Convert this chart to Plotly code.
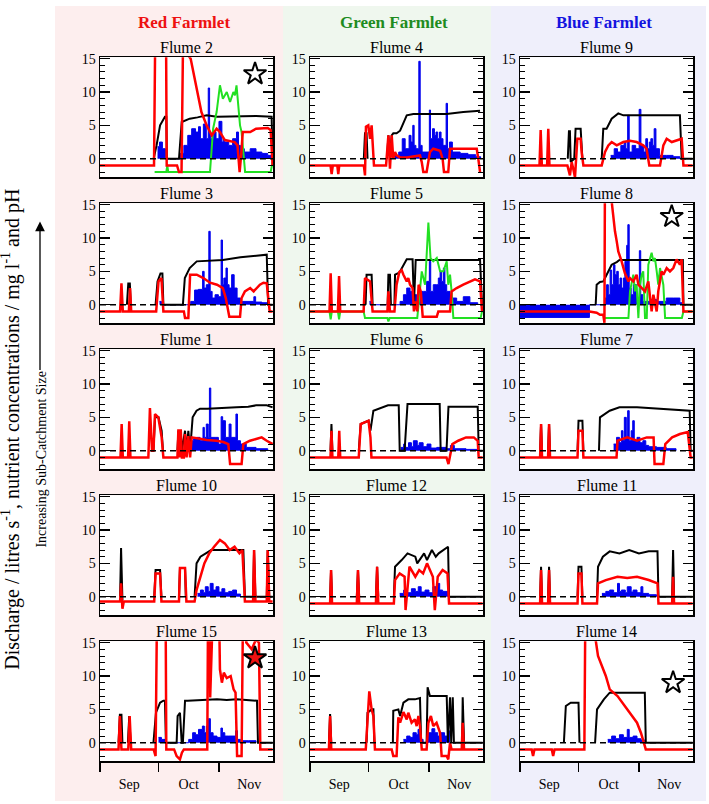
import datetime as dt
import plotly.graph_objects as go

BASE = dt.datetime(2012, 9, 1)
X_RANGE = ["2012-09-01", "2012-11-28 17:00:00"]
Y_RANGE = [-2.8, 15.2]

FARMLETS = ["Red Farmlet", "Green Farmlet", "Blue Farmlet"]
FARMLET_COLORS = ["#ee1111", "#1e8c1e", "#1414e0"]
FLUMES = [["Flume 2", "Flume 4", "Flume 9"],
          ["Flume 3", "Flume 5", "Flume 8"],
          ["Flume 1", "Flume 6", "Flume 7"],
          ["Flume 10", "Flume 12", "Flume 11"],
          ["Flume 15", "Flume 13", "Flume 14"]]
MONTH_LABELS = ["Sep", "Oct", "Nov"]
Y_TICKS = [0, 5, 10, 15]

# ---------------- data (day index from 1 Sep, value) ----------------
# Flume 2
F2_BLACK_D = [27.5, 29, 30.8, 33.3, 34, 34.3, 39.5, 40.5, 41.9, 46, 50, 54.7, 60, 70, 80, 88, 88.5]
F2_BLACK_V = [0, 2, 5, 6.3, 6.3, 0, 0, 0, 5.5, 6, 6.2, 6.5, 6.3, 6.4, 6.4, 6.3, 0]
F2_RED_D = [0, 27.7, 29, 33.5, 34.2, 39.5, 40.5, 41.8, 42.5, 44, 46.5, 48.5, 50.5, 52, 54.7, 57.3, 59.8, 61.5, 64, 69, 70.5, 71.6, 72.5, 73.2, 77, 80, 86, 87.5, 88.5]
F2_RED_V = [-1, -1, 40, 40, -1, -1, -2, -2, 15.5, 16, 15, 12, 9, 7, 5, 3.5, 4.5, 4, 2.8, 2.5, 2, -2, 1, 4, 4, 4.5, 4.6, 4.3, -1]
F2_GREEN_D = [28, 34, 34.5, 35, 56.4, 58, 59.8, 61.5, 63, 65, 66.7, 68.4, 69.2, 70, 71.8, 72.6, 74.4, 87.5, 88.5]
F2_GREEN_V = [-2, -2, -1, -2, -2, 4.5, 7, 11, 9, 10, 8.5, 10, 9.5, 11, 5, 4, -2, -2, -0.5]
F2_BLUE_D = [29.5, 30.5, 32, 33.5, 41, 43, 45, 47, 49, 50.5, 51.5, 53, 54.5, 55.5, 56.2, 56.8, 58, 59.5, 61, 62.5, 63.2, 64, 66, 68, 70, 71, 72, 74, 77, 80, 83, 86, 88.5]
F2_BLUE_V = [1.8, 2.5, 1.5, 0, 0.8, 2, 3.5, 4.5, 4, 4.8, 3, 5.2, 3, 10.6, 4, 3, 4, 3, 5.6, 2.5, 3, 2.5, 2, 3, 4, 2, 1.5, 1, 1.5, 1, 0.8, 0.5, 0]

# Flume 4
F4_BLACK_D = [27.6, 28.2, 29, 29.5, None, 39.5, 40.2, 41, 41.9, 42.7, 44.4, 46.2, 47.9, 49.6, 53, 61.5, 70, 78.6, 87.2]
F4_BLACK_V = [0, 3.8, 3.8, 0, None, 0, 3.5, 0.5, 3.5, 3.8, 3.8, 4.2, 5.5, 6.5, 6.7, 6.7, 6.7, 7, 7.2]
F4_RED_D = [0, 10.5, 11.1, 11.7, 14, 14.5, 15, 27.6, 28.2, 28.7, 29.9, 30.8, 31.6, 32.1, 32.8, 39, 40.2, 41, 41.9, 42.7, 43.6, 44.4, 46.2, 49.6, 56.4, 57.3, 58.1, 59.8, 61.5, 63.2, 66.7, 68, 68.7, 70.9, 71.8, 78.6, 85.5, 86.3, 87.2]
F4_RED_V = [-1, -1, -2.3, -1, -1, -2.3, -1, -1, -2.5, 4.8, 5, 3, 5, 1.5, -1, -1, 3.5, -1.5, 3.5, 0, 1, 0.5, 0.2, 0.2, 0.5, -0.5, -2, -2, 1, 1.5, 1.2, 0, -2, -2, 1.5, 1.5, 1.5, 0, -2]
F4_BLUE_D = [43.3, 45.5, 47.3, 48.8, 50.8, 51.8, 52.7, 53.4, 54.3, 55.8, 56.5, 57.5, 61.2, 61.8, 62.8, 63.8, 64.6, 65.5, 66.4, 67.2, 68.2, 69.8, 70.5, 71.5, 73, 77, 81, 85, 87.5]
F4_BLUE_V = [0.5, 1, 3, 1.5, 3.5, 2.5, 5, 2, 1.5, 14.6, 2, 1, 7.3, 3, 4.5, 3.5, 4, 3, 4, 3, 2, 8.3, 1.5, 2.5, 1, 0.8, 0.6, 0.3, 0]

# Flume 9
F9_BLACK_D = [24.5, 25.1, 25.6, 26, 27.8, 28.5, 31.1, 32, None, 41.9, 42.7, 44.4, 47, 50.4, 53, 60, 70, 82, 82.9, 88.5]
F9_BLACK_V = [0, 4.1, 4.1, -0.5, 0, 4.5, 4.5, 0, None, 0, 4.5, 4.5, 6, 6.8, 6.5, 6.5, 6.5, 6.5, 0, 0]
F9_RED_D = [0, 10, 10.6, 11.2, 13.9, 14.5, 15.1, 24.3, 25.6, 26.5, 27.3, 28.2, 29.4, 31.1, 31.6, 32.5, 41.9, 42.7, 43.6, 45.3, 47, 49.6, 53, 56.4, 59.8, 63.2, 64.9, 66.3, 71.8, 73.5, 75.2, 77.8, 80.3, 82.9, 83.8, 88.5]
F9_RED_V = [-1, -1, 4.3, -1, -1, 4.5, -1, -1, -2.5, -0.5, -1.5, -2.8, 3, 3, 1, -1, -1, 0, 1, 2, 2.5, 2, 2.5, 2.7, 2.5, 2, 1.5, -1, -1, 2, 3, 2.5, 2.8, 3, -1, -1]
F9_BLUE_D = [46.5, 48.3, 50, 51.7, 53.4, 54.3, 55.2, 56, 57.5, 59.3, 61.1, 62, 63.5, 64.5, 65.4, 66.3, 67.1, 68, 68.8, 69.7, 71.5, 75, 78.5, 82]
F9_BLUE_V = [0.5, 1.5, 1, 2, 2.5, 1.5, 6.5, 1, 2, 1.5, 7.4, 2, 1, 3, 1.5, 2.5, 3, 2, 4.5, 1.5, 0.5, 0.5, 0.3, 0]

# Flume 3
F3_BLACK_D = [13.8, 14.5, 15.3, 15.8, None, 28.5, 29.5, 31, 32, 32.5, 42.5, 43.5, 46, 49.6, 54.7, 63, 72, 80, 85.5, 86.2, 88.5]
F3_BLACK_V = [0, 3.2, 3.2, 0, None, 0, 3.5, 4.7, 4.7, 0, 0, 4, 5.5, 6.5, 6.6, 6.7, 7.1, 7.3, 7.5, 0, 0]
F3_RED_D = [0, 10.3, 11, 11.7, 14.8, 15.4, 16, 28.8, 30, 31.5, 32.5, 43, 43.6, 45.3, 46.2, 49.6, 53, 56.4, 60, 63, 64.5, 66.3, 71.8, 72.6, 74.3, 77, 78.8, 80.3, 82, 83.8, 85.5, 87, 88.5]
F3_RED_V = [-1, -1, 3.2, -1, -1, 2.5, -1, -1, 3.5, 4, -1, -1, -2, -2, 4.5, 4.5, 4, 3.3, 3, 2.5, 1, -1.8, -1.8, 1, 2, 2.5, 2, 2.5, 3, 3.3, 3.2, -1, -1]
F3_BLUE_D = [30.5, 31.5, 46.5, 48.5, 50.4, 52.6, 53.4, 54.5, 55.8, 56.5, 57.5, 59, 60.7, 62.1, 62.8, 63.5, 64.6, 65.3, 66.2, 67.5, 68.8, 70.3, 72, 78.9, 79.8, 83, 86]
F3_BLUE_V = [0.5, 0, 0.5, 2.2, 2.3, 5, 2.5, 3, 11, 2, 1, 1.5, 1.2, 9.7, 3, 4, 5.5, 3, 2.5, 4.5, 2.5, 1, 0.5, 1.2, 0.4, 0.3, 0]

# Flume 5
F5_BLACK_D = [28.5, 29, 31.6, 32.1, None, 39.8, 40.2, 41, 41.5, None, 43.3, 43.6, 45.8, 47.9, 49.6, 52.6, 53.3, 54.2, 60, 70, 80, 87.2, 88.2]
F5_BLACK_V = [0, 4.5, 4.5, 0, None, 0, 4.5, 4.5, 0, None, 0, 4.5, 4.8, 6, 6.8, 6.8, 0, 6.7, 6.7, 6.8, 6.8, 6.7, 0]
F5_RED_D = [0, 10, 10.6, 11.2, 14.3, 14.9, 15.5, 27.5, 28.2, 30.8, 32.1, 39.7, 40.2, 41, 43.3, 44.4, 45.8, 47, 47.9, 49.6, 50.4, 51.3, 52.6, 53.3, 54.2, 55, 55.7, 56.8, 57.8, 65, 65.8, 71.8, 72.6, 75.2, 78.6, 82, 84.6, 87.2, 88.2]
F5_RED_V = [-1, -1, 4.7, -1, -1, 4.3, -1, -1, 4, 3.5, -1, -1, 2, -1, -1, 3, 4.9, 5.2, 4.5, 3.5, 4, 3, 2.5, -1, 0.5, -1, 3, 2, -1.8, -1.8, -1, -1, 2, 2.5, 3, 3.5, 3.8, 3.5, -1]
F5_GREEN_D = [0, 10, 10.6, 11.2, 14.3, 14.9, 15.5, 27.5, 28.2, 39.7, 40.2, 40.8, 55, 57.3, 59, 60.7, 61.8, 63.2, 65, 66.7, 68.4, 70.1, 70.9, 71.8, 72.6, 73.5, 87.5, 88.2]
F5_GREEN_V = [-1, -1, -2.2, -1, -1, -2.2, -1, -1, -2, -2, -2.5, -2, -2, 5, 3, 12.3, 7, 6.5, 7, 5, 5, 6.5, 3, 4.5, 2, -2, -2, -1]
F5_BLUE_D = [30.5, 31.5, 46.2, 47.9, 49.6, 51.3, 53, 54.7, 56.4, 58.1, 59.8, 61.2, 61.9, 63.2, 65, 65.8, 66.7, 67.5, 68.4, 69.2, 70.1, 71.8, 75.2, 78.6, 82, 86]
F5_BLUE_V = [0.5, 0, 0.5, 1.5, 2.5, 2, 1.5, 1.5, 2, 2, 3.5, 6.5, 2, 3, 3, 4, 5, 3.5, 5.5, 3, 2, 1, 0.5, 1.2, 0.3, 0]

# Flume 8
F8_BLACK_D = [38.8, 39.3, 41, 42.7, 43.6, 45.3, 47, 49.6, 51, 60, 70, 80, 83.5, 83.8, 88.5]
F8_BLACK_V = [0, 3, 3.4, 3.5, 4, 5, 6, 6.4, 6.7, 6.7, 6.7, 6.7, 6.7, 0, 0]
F8_RED_D = [0, 35.6, 39.3, 41, 42.7, 43.3, 43.8, 46, 47, 47.9, 48.7, 49.6, 50.4, 52.1, 53.8, 55.6, 56.4, 58.1, 59.8, 60.7, 62.4, 64.1, 65.8, 66.6, 67.5, 68.4, 70.1, 70.9, 71.8, 72.6, 73.5, 75.2, 76.9, 78.6, 80.3, 82, 82.9, 83.8, 88.5]
F8_RED_V = [-1, -1, -1.2, -1.5, -1.5, -2.7, 40, 40, 15.5, 13, 11, 9.5, 8, 6.5, 4.7, 3.5, 4, 3.5, 4.5, 3, 2.5, 2, 3.5, 1.5, -1, 1.5, -1, 2, 3.5, 5, 4.5, 5.5, 5, 5.5, 6.8, 6, 6.8, -1, -1]
F8_GREEN_D = [43.6, 55.6, 56.4, 58.1, 59, 59.8, 60.7, 61.5, 62.4, 63.2, 64.1, 65, 65.8, 67.5, 68.4, 69.2, 70.1, 70.9, 71.8, 72.6, 73.5, 74.4, 83, 83.8, 88.5]
F8_GREEN_V = [-2, -2, 2, 4.5, 2, 3, -2, 3, 4.5, 5, -2, -2, 6, 7.8, 6.5, 7, 5, 3, 5.5, 4, 3, -2, -2, -1, -1]
F8_BLUE_D = [0, 35.6, 43.6, 44.4, 45.3, 46.2, 47, 47.9, 48.7, 49.6, 50.4, 51.3, 52.1, 53, 53.8, 54.7, 55.3, 56, 57, 58.1, 59.8, 61.2, 61.9, 63, 66.7, 70, 75, 78.6, 82, 83.8]
F8_BLUE_V = [-1.9, 0, 1, 3, 1.5, 5.2, 3, 6, 4.5, 5, 3, 4, 2.5, 4, 6.5, 8.9, 12, 2.5, 1.5, 3, 1, 8.1, 1.5, 0.5, 0.8, 0.5, 1, 1, 0.3, 0]

# Flume 1
F1_BLACK_D = [27.4, 28.2, 30, 31.6, 32.3, None, 39.7, 40.2, 40.7, 41.4, 42, 43.6, 44.4, 45.3, 46.2, 47.5, 49.5, 51.3, 55, 60, 65, 70, 76, 80, 85.5, 88.5]
F1_BLACK_V = [0, 5, 5, 3, 0, None, 0, 3, 0, 3, 0, 3, 0, 3, 0, 5, 6, 6.3, 6.3, 6.4, 6.4, 6.5, 6.6, 6.8, 6.8, 6.5]
F1_RED_D = [0, 10.5, 11.1, 11.7, 14.4, 15, 15.6, 24.8, 25.6, 26.7, 27.4, 28.2, 29.9, 31.6, 32.5, 39.7, 40.2, 40.7, 41.4, 42, 43, 43.6, 44.4, 45.3, 46.2, 47, 51.3, 54.7, 59.8, 63.2, 65.8, 66.7, 72.6, 73.5, 76.9, 80.3, 82.9, 85.5, 88.5]
F1_RED_V = [-1, -1, 4, -1, -1, 4.4, -1, -1, 6.4, 0, 0, 5.5, 5, 2, -1, -1, 3.2, -1, 3.2, -1, -1, 2.5, -1, 2.2, -1, 2, 1.8, 1.6, 1.5, 1.3, 1, -2, -2, 1, 1.5, 1.8, 2, 1.5, 1]
F1_BLUE_D = [46.8, 47.9, 49.6, 51.3, 52.8, 53.5, 54.5, 55.5, 56.1, 56.8, 59, 60.7, 62.1, 62.9, 64.3, 66.2, 67.2, 69.7, 70.5, 72, 75, 80, 86]
F1_BLUE_V = [1.5, 1.8, 2, 1.5, 3.5, 2, 4, 2, 9.4, 2, 2, 1, 5.1, 4.5, 2, 4, 2, 5.5, 1.5, 1, 0.5, 0.3, 0]

# Flume 6
F6_BLACK_D = [10.5, 11, 11.5, None, 25, 26, 30, 31, 32.5, 35, 40, 45.5, 46, 48.5, 50, 55, 60, 66.5, 67, 70, 71, 75, 80, 86, 86.5, 88.5]
F6_BLACK_V = [0, 4, 0, None, 0, 4, 4.5, 3, 6, 6.3, 6.8, 6.8, 0, 0, 7, 7, 7, 7, 0, 0, 6.6, 6.6, 6.6, 6.6, 0, 0]
F6_RED_D = [0, 10.5, 11, 11.5, 14.5, 15, 15.5, 25, 26, 30, 31, 31.5, 70, 71, 73, 76, 80, 84, 86, 86.5, 88.5]
F6_RED_V = [-1, -1, 3, -1, -1, 3, -1, -1, 4, 4.5, 2, -1, -1, -2, 1, 1.5, 2, 2, 1.5, -1, -1]
F6_BLUE_D = [46.5, 48, 49, 50.5, 52, 53, 55, 56, 58, 60, 62, 65, 70, 72, 74, 80, 86]
F6_BLUE_V = [0.5, 1, 0.5, 1.2, 0.6, 1.5, 0.8, 1.2, 0.6, 1, 0.4, 0.5, 0.3, 0.8, 0.3, 0.2, 0]

# Flume 7
F7_BLACK_D = [10.3, 10.8, 11.3, None, 14.4, 14.9, 15.4, None, 29.5, 30, 32, 32.5, None, 40.5, 41, 46, 51, 60, 70, 80, 87, 87.5, 88.5]
F7_BLACK_V = [0, 4, 0, None, 0, 4, 0, None, 0, 4.5, 4.5, 0, None, 0, 5, 6, 6.5, 6.5, 6.3, 6.2, 6, 0, 0]
F7_RED_D = [0, 10.3, 10.8, 11.3, 14.4, 14.9, 15.4, 29.5, 30, 32, 32.5, 49.5, 50, 55, 60, 65, 68.5, 69, 73.5, 74.5, 78, 82, 86, 87.5, 88.5]
F7_RED_V = [-1, -1, 4, -1, -1, 4, -1, -1, 3, 3, -1, -1, 1.5, 2, 1.5, 2, 2, -2, -2, 1, 2, 2.5, 2.8, -1, -1]
F7_BLUE_D = [48, 49.5, 51, 52, 52.8, 53.5, 54.5, 55.2, 56, 57, 57.8, 58.6, 60, 61.5, 63, 64.5, 66, 70, 75, 80]
F7_BLUE_V = [1, 2, 1.2, 3, 1.5, 5, 2, 6, 1.5, 3, 4.5, 1.5, 2, 1.2, 1.5, 0.8, 0.6, 0.5, 0.3, 0]

# Flume 10
F10_BLACK_D = [10.3, 10.8, 11.5, None, 27.8, 28.5, 30.8, 31.5, None, 40.5, 41, 43.6, 44, None, 48.5, 49.5, 51.5, 54, 57, 60, 65, 70, 73.5, 74.3, 78.5, 79, 79.7, 85.5, 86, 86.8, 88.5]
F10_BLACK_V = [0, 7.3, -0.5, None, 0, 4, 4, 0, None, 0, 4.3, 4.3, 0, None, 0, 5, 6, 6.5, 7, 7, 7, 7, 7, 0, 0, 7, 0, 0, 7, 0, 0]
F10_RED_D = [0, 10.3, 10.8, 11.5, 12.2, 27.8, 28.5, 30.8, 31.5, 40.5, 41, 43.6, 44.3, 48.5, 49.5, 51.5, 53.5, 56, 58.5, 61.5, 64, 66.5, 69, 71.5, 73, 74.3, 78.5, 79, 79.7, 85.5, 86, 86.8, 88.5]
F10_RED_V = [-0.7, -0.7, 2, -1.8, -0.7, -0.7, 3.5, 3.5, -0.7, -0.7, 4.3, 4.3, -0.7, -0.7, 1, 3, 5, 6.5, 7.5, 8.5, 8, 7, 7.5, 6.5, 7, -0.7, -0.7, 7, -0.7, -0.7, 7, -0.7, -0.7]
F10_BLUE_D = [50, 51.5, 53, 54, 55.5, 56.5, 58, 59.5, 61, 62.5, 64, 66, 68, 70, 72]
F10_BLUE_V = [0.5, 1, 0.6, 1.5, 0.8, 2, 1, 1.5, 0.7, 1.2, 0.6, 0.8, 1, 0.4, 0]

# Flume 12
F12_BLACK_D = [10.3, 10.8, 11.3, None, 24, 24.6, 25.2, None, 33.8, 34.4, 35, None, 43, 43.6, 47, 50, 54, 55, 58.5, 60, 62.5, 64.5, 66, 70.8, 71.3, 88.5]
F12_BLACK_V = [0, 4, 0, None, 0, 4, 0, None, 0, 4.5, 0, None, 0, 4.5, 5.5, 6.5, 6, 5, 6.5, 5.5, 7, 6, 6.5, 7.5, 0, 0]
F12_RED_D = [0, 10.3, 10.8, 11.3, 24, 24.6, 25.2, 33.8, 34.4, 35, 43, 43.6, 46, 48.5, 49, 51, 54, 56, 58, 60, 63, 64, 65.5, 68, 70.5, 71.3, 88.5]
F12_RED_V = [-1, -1, 4, -1, -1, 4, -1, -1, 4.5, -1, -1, 2.5, 3.5, 3, -2, 4.5, 3, 4, 3.5, 5, 3, -2, 3, 4, 3.5, -1, -1]
F12_BLUE_D = [46, 48, 50, 52, 54, 55.5, 57, 59, 61, 63, 65, 66.5, 68, 71]
F12_BLUE_V = [0.5, 1, 0.6, 1.2, 0.8, 1.5, 0.7, 1, 0.6, 1.5, 2, 1, 0.8, 0]

# Flume 11
F11_BLACK_D = [10.3, 10.8, 11.3, None, 14.4, 14.9, 15.4, None, 29.5, 30, 31.5, 32, None, 39.5, 40, 42.5, 46, 51, 56, 61, 66, 70.5, 71, 78, 78.5, 79, 88.5]
F11_BLACK_V = [0, 4.5, 0, None, 0, 4.5, 0, None, 0, 4.5, 4.5, 0, None, 0, 4.5, 6, 6.8, 6.5, 7, 6.5, 6.8, 6.8, 0, 0, 7, 0, 0]
F11_RED_D = [0, 10.3, 10.8, 11.3, 14.4, 14.9, 15.4, 29.5, 30, 31.5, 32, 39.5, 40, 44, 50, 55, 60, 66, 70.5, 71, 78, 78.5, 79, 88.5]
F11_RED_V = [-1, -1, 4, -1, -1, 4, -1, -1, 3.5, 3.5, -1, -1, 2, 2.5, 3, 2.8, 3, 2.5, 2, -1, -1, 3, -1, -1]
F11_BLUE_D = [42, 44, 46, 48, 50, 51, 52, 54, 55, 57, 58, 60, 62, 63, 66, 70]
F11_BLUE_V = [0.5, 0.8, 1, 0.6, 2, 0.8, 1, 0.6, 1.5, 0.7, 1, 0.6, 1.5, 0.5, 0.3, 0]

# Flume 15
F15_BLACK_D = [9.5, 10.2, 11, 11.5, None, 14.3, 15, 15.7, None, 27.4, 28.7, 30.8, 32.5, 33.3, 33.8, 39.3, 39.8, 41, 41.9, 42.5, 43.6, 45, 50, 55, 60, 65, 70, 75, 80.5, 81, 88.5]
F15_BLACK_V = [0, 4.2, 4.2, 0, None, 0, 4, 0, None, 0, 4.5, 6, 6.3, 6.3, 0, 0, 4, 4.5, 0, 0, 6.3, 6.3, 6.4, 6.5, 6.5, 6.4, 6.5, 6.4, 6.3, 0, 0]
F15_RED_D = [0, 9.5, 10.2, 11, 14.5, 15.2, 16, 27.5, 28.5, 29.9, 33.3, 34, 38, 39.3, 41, 42, 43, 55, 55.8, 56.5, 57.8, 60, 61.5, 62.5, 63.5, 65, 67, 68.5, 69.5, 70.3, 72.6, 74, 75, 77.8, 80, 81.5, 82.2, 88.5]
F15_RED_V = [-1, -1, 4, -1, -1, 4, -1, -1, -2, 40, 40, -1, -1, -2, -2.5, -1.5, -1, -1, 40, 6.8, 40, 40, 11, 9, 10.5, 9.7, 10, 8, 7.5, -2, -2, 40, 15, 14, 15.5, 15, -1, -1]
F15_BLUE_D = [30, 31.5, 33.3, 45.5, 47.5, 49, 50.5, 52.5, 53.5, 54.5, 55.6, 56.6, 58, 60, 62, 62.8, 64, 66, 69.5, 70.5, 72, 76, 80]
F15_BLUE_V = [0.8, 0.5, 0, 0.5, 1.5, 1.2, 2, 2.5, 1.5, 2.5, 3.6, 1.5, 1, 0.8, 2.2, 1.5, 1, 1, 1.8, 0.5, 0.3, 0.3, 0]

# Flume 13
F13_BLACK_D = [9.7, 10.3, 10.9, None, 29, 29.5, 31.6, 32.5, 33, None, 42.5, 42.7, 45.3, 46.2, 47.9, 50.4, 53.8, 56.4, 57, 59.8, 60.3, 61.5, 66, 70.1, 70.7, 71.8, 72.4, 73.2, 73.8, 78, 78.3, 79, 88.5]
F13_BLACK_V = [0, 4.3, 0, None, 0, 4.5, 5, 5, 0, None, 0, 4.8, 5, 4, 6, 6.5, 6.5, 6.7, 0, 0, 8.3, 7, 7, 7, 0, 6.8, 0, 6.8, 0, 0, 6.8, 0, 0]
F13_RED_D = [0, 9.7, 10.3, 10.9, 28.6, 29.1, 30.4, 31.6, 32.5, 33.3, 41.9, 42.7, 44.4, 45.3, 46.2, 47.9, 49.6, 50.4, 52.1, 53.8, 54.7, 55.6, 56.4, 57.3, 59.8, 60.7, 62, 63.2, 64.9, 66.7, 67.5, 70.1, 70.9, 71.8, 72.6, 77.8, 78.3, 79, 88.5]
F13_RED_V = [-1, -1, 4, -1, -1, 2, 7.7, 5, 4, -1, -1, -2, -2, 3.8, 3, 4.6, 3.5, 4.5, 3, 3.5, 2.5, 4, 2.5, -1, -1, 3, 4, 2.5, 3, 1.5, -2, -2, -2.5, 0, -1, -1, 3, -1, -1]
F13_BLUE_D = [47.9, 49.6, 51.3, 52.8, 54.5, 55.4, 56.5, 58, 60.5, 62.5, 64, 65.5, 67, 69, 70.5, 71.5]
F13_BLUE_V = [0.5, 1, 0.8, 1.5, 1.2, 2, 0.5, 0, 1.5, 2.1, 1.5, 1, 1.5, 1, 1.8, 0]

# Flume 14
F14_BLACK_D = [22.5, 23.5, 26, 30, 30.5, None, 38.5, 39.5, 43, 46, 55, 64, 64.5, 88.5]
F14_BLACK_V = [0, 5.5, 6, 6, 0, None, 0, 5, 6.5, 7.5, 7.5, 7.5, 0, 0]
F14_RED_D = [0, 6, 6.7, 7.4, 16.3, 17, 17.7, 33, 34, 36, 38.5, 40, 44, 46, 50, 55, 60, 62, 63, 64.5, 88.5]
F14_RED_V = [-1, -1, -2, -1, -1, -2, -1, -1, 40, 40, 16, 13, 10, 8, 7, 5, 3, 1.5, 0.5, -1, -1]
F14_BLUE_D = [45, 47, 49, 51, 53, 55, 56, 58, 60, 62, 64]
F14_BLUE_V = [0.5, 1, 0.6, 1.2, 0.8, 2, 0.8, 1, 0.6, 0.4, 0]

# star markers
STAR_FLUMES = ["Flume 2", "Flume 8", "Flume 15", "Flume 14"]
STAR_DAYS = [79.5, 77.8, 79.5, 78.5]
STAR_VALUES = [12.7, 13.2, 12.7, 9.0]
STAR_FILLS = ["white", "white", "#ee1111", "white"]

SERIES = {
    "Flume 2": (F2_BLUE_D, F2_BLUE_V, F2_BLACK_D, F2_BLACK_V, F2_GREEN_D, F2_GREEN_V, F2_RED_D, F2_RED_V),
    "Flume 4": (F4_BLUE_D, F4_BLUE_V, F4_BLACK_D, F4_BLACK_V, None, None, F4_RED_D, F4_RED_V),
    "Flume 9": (F9_BLUE_D, F9_BLUE_V, F9_BLACK_D, F9_BLACK_V, None, None, F9_RED_D, F9_RED_V),
    "Flume 3": (F3_BLUE_D, F3_BLUE_V, F3_BLACK_D, F3_BLACK_V, None, None, F3_RED_D, F3_RED_V),
    "Flume 5": (F5_BLUE_D, F5_BLUE_V, F5_BLACK_D, F5_BLACK_V, F5_GREEN_D, F5_GREEN_V, F5_RED_D, F5_RED_V),
    "Flume 8": (F8_BLUE_D, F8_BLUE_V, F8_BLACK_D, F8_BLACK_V, F8_GREEN_D, F8_GREEN_V, F8_RED_D, F8_RED_V),
    "Flume 1": (F1_BLUE_D, F1_BLUE_V, F1_BLACK_D, F1_BLACK_V, None, None, F1_RED_D, F1_RED_V),
    "Flume 6": (F6_BLUE_D, F6_BLUE_V, F6_BLACK_D, F6_BLACK_V, None, None, F6_RED_D, F6_RED_V),
    "Flume 7": (F7_BLUE_D, F7_BLUE_V, F7_BLACK_D, F7_BLACK_V, None, None, F7_RED_D, F7_RED_V),
    "Flume 10": (F10_BLUE_D, F10_BLUE_V, F10_BLACK_D, F10_BLACK_V, None, None, F10_RED_D, F10_RED_V),
    "Flume 12": (F12_BLUE_D, F12_BLUE_V, F12_BLACK_D, F12_BLACK_V, None, None, F12_RED_D, F12_RED_V),
    "Flume 11": (F11_BLUE_D, F11_BLUE_V, F11_BLACK_D, F11_BLACK_V, None, None, F11_RED_D, F11_RED_V),
    "Flume 15": (F15_BLUE_D, F15_BLUE_V, F15_BLACK_D, F15_BLACK_V, None, None, F15_RED_D, F15_RED_V),
    "Flume 13": (F13_BLUE_D, F13_BLUE_V, F13_BLACK_D, F13_BLACK_V, None, None, F13_RED_D, F13_RED_V),
    "Flume 14": (F14_BLUE_D, F14_BLUE_V, F14_BLACK_D, F14_BLACK_V, None, None, F14_RED_D, F14_RED_V),
}

# ---------------- layout geometry (pixels) ----------------
W, H = 709, 804
COL_LEFT = [100, 310, 520]
PLOT_W = 173
ROW_TOP = [51.7 + 147.1 * r for r in range(5)]
PLOT_H = 121
BG_COLS = [(55, 283, "#fdeeee"), (283, 491, "#eff7ee"), (491, 706, "#efeffb")]
SERIF = "Liberation Serif, Times New Roman, serif"


def to_dates(days):
    return [None if d is None else BASE + dt.timedelta(days=d) for d in days]


def px(x):
    return x / W


def py(y):
    return 1 - y / H


fig = go.Figure()
layout = dict(width=W, height=H, margin=dict(l=0, r=0, t=0, b=0),
              paper_bgcolor="white", plot_bgcolor="rgba(0,0,0,0)",
              showlegend=False)
shapes = []
annotations = []

for x0, x1, col in BG_COLS:
    shapes.append(dict(type="rect", xref="paper", yref="paper", x0=px(x0), x1=px(x1),
                       y0=py(801), y1=1, fillcolor=col, line=dict(width=0), layer="below"))

for r in range(5):
    for c in range(3):
        i = r * 3 + c + 1
        xa = "x" if i == 1 else f"x{i}"
        ya = "y" if i == 1 else f"y{i}"
        name = FLUMES[r][c]
        left = COL_LEFT[c]
        top = ROW_TOP[r]
        xdom = [px(left), px(left + PLOT_W)]
        ydom = [py(top + PLOT_H), py(top)]
        bottom_row = (r == 4)
        layout[f"xaxis{'' if i == 1 else i}"] = dict(
            domain=xdom, anchor=ya, type="date", range=X_RANGE,
            showline=True, linecolor="black", linewidth=1.5, mirror=True,
            showgrid=False, zeroline=False,
            dtick="M1", tick0="2012-09-01", ticklabelmode="period", tickformat="%b",
            ticks="outside" if bottom_row else "", ticklen=9, tickwidth=1.5, tickcolor="black",
            showticklabels=bottom_row,
            tickfont=dict(family=SERIF, size=14, color="black"))
        layout[f"yaxis{'' if i == 1 else i}"] = dict(
            domain=ydom, anchor=xa, range=Y_RANGE,
            showline=True, linecolor="black", linewidth=1.5, mirror="ticks",
            showgrid=False, zeroline=False,
            tickvals=Y_TICKS, ticks="inside", ticklen=10, tickwidth=1.5, tickcolor="black",
            minor=dict(dtick=1, tick0=0, ticks="inside", ticklen=5, tickwidth=1, tickcolor="black"),
            tickfont=dict(family=SERIF, size=14, color="black"))
        shapes.append(dict(type="rect", xref=f"{xa} domain", yref=f"{ya} domain",
                           x0=0, x1=1, y0=0, y1=1, fillcolor="white",
                           line=dict(width=0), layer="below"))
        shapes.append(dict(type="line", xref=f"{xa} domain", yref=ya, x0=0, x1=1, y0=0, y1=0,
                           line=dict(color="black", width=1.5, dash="6px,4px"), layer="above"))
        annotations.append(dict(text=name, xref="paper", yref="paper",
                                x=px(left + PLOT_W / 2), y=py(top - 10),
                                xanchor="center", yanchor="middle", showarrow=False,
                                font=dict(family=SERIF, size=16, color="black")))

        bd, bv, kd, kv, gd, gv, rd, rv = SERIES[name]
        fig.add_trace(go.Scatter(x=to_dates(bd), y=bv, xaxis=xa, yaxis=ya, mode="lines",
                                 line=dict(shape="hv", width=1, color="#0000ee"),
                                 fill="tozeroy", fillcolor="#0000ee", hoverinfo="skip"))
        fig.add_trace(go.Scatter(x=to_dates(kd), y=kv, xaxis=xa, yaxis=ya, mode="lines",
                                 line=dict(width=2, color="black"), connectgaps=False))
        if gd is not None:
            fig.add_trace(go.Scatter(x=to_dates(gd), y=gv, xaxis=xa, yaxis=ya, mode="lines",
                                     line=dict(width=2, color="#22e022")))
        fig.add_trace(go.Scatter(x=to_dates(rd), y=rv, xaxis=xa, yaxis=ya, mode="lines",
                                 line=dict(width=2.5, color="#ff0000")))
        if name in STAR_FLUMES:
            k = STAR_FLUMES.index(name)
            fig.add_trace(go.Scatter(x=to_dates([STAR_DAYS[k]]), y=[STAR_VALUES[k]],
                                     xaxis=xa, yaxis=ya, mode="markers",
                                     marker=dict(symbol="star", size=17, color=STAR_FILLS[k],
                                                 line=dict(color="black", width=2))))

for c in range(3):
    annotations.append(dict(text=f"<b>{FARMLETS[c]}</b>", xref="paper", yref="paper",
                            x=px(COL_LEFT[c] + PLOT_W / 2 - 3), y=py(17),
                            xanchor="center", yanchor="middle", showarrow=False,
                            font=dict(family=SERIF, size=17, color=FARMLET_COLORS[c])))

annotations.append(dict(text="Discharge / litres s<sup>-1</sup>, nutrient concentrations / mg l<sup>-1</sup> and pH",
                        xref="paper", yref="paper", x=px(11), y=py(427), textangle=-90,
                        xanchor="center", yanchor="middle", showarrow=False,
                        font=dict(family=SERIF, size=20, color="black")))
annotations.append(dict(text="Increasing Sub-Catchment Size",
                        xref="paper", yref="paper", x=px(42), y=py(457), textangle=-90,
                        xanchor="center", yanchor="middle", showarrow=False,
                        font=dict(family=SERIF, size=14, color="black")))
annotations.append(dict(text="", xref="paper", yref="paper", x=px(40), y=py(217),
                        ax=0, ay=150, showarrow=True, arrowhead=2, arrowsize=1.5,
                        arrowwidth=1.3, arrowcolor="black"))

layout["shapes"] = shapes
layout["annotations"] = annotations
fig.update_layout(**layout)
fig.write_html(
    "out.html",
    config={"displayModeBar": False, "staticPlot": True},
    post_script=("document.documentElement.style.margin='0';"
                 "document.body.style.margin='0';document.body.style.padding='0';"
                 "document.body.style.overflow='hidden';"
                 "var d=document.getElementById('{plot_id}');"
                 "d.style.position='absolute';d.style.left='0px';d.style.top='0px';"))
